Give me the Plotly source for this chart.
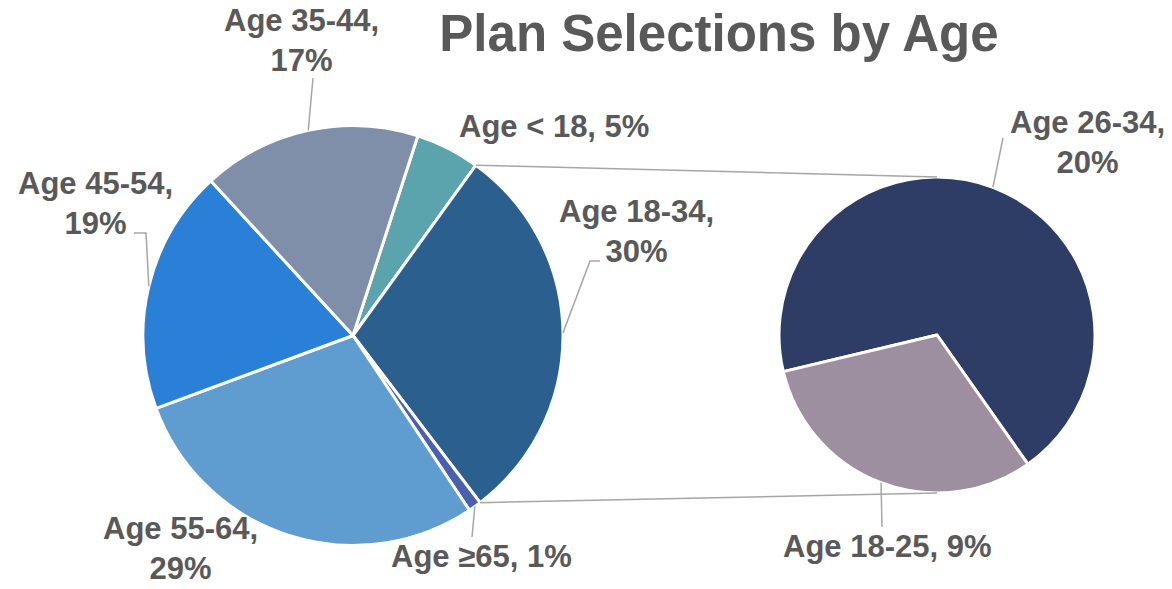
import math
import plotly.graph_objects as go

W, H = 1172, 589

# main pie (Age 18-34 is split out into the small pie)
main_labels = ["Age < 18", "Age 18-34", "Age \u226565", "Age 55-64", "Age 45-54", "Age 35-44"]
main_values = [5, 30, 1, 29, 19, 17]
main_colors = ["#5BA3AD", "#2B5F8E", "#4A5FAD", "#5F9DD1", "#2A7FD6", "#7F8FA9"]

# breakdown of Age 18-34
sub_labels = ["Age 26-34", "Age 18-25"]
sub_values = [20, 9]
sub_colors = ["#2E3D66", "#9D8EA0"]

split_label = "Age 18-34"

TEXT = "#595959"
LINE = "#A6A6A6"
FONT = "Liberation Sans, Arial, sans-serif"

# pie geometry in pixels (center x, center y, radius, start angle clockwise from 12 o'clock)
main_geo = (353, 335.5, 210, 18.0)
sub_geo = (937, 335, 158, 256.6)

# label layout: text center, leader start, optional knee
main_lbl = {
    "Age < 18": dict(pos=(554, 126), wrap=False, lead=None),
    "Age 18-34": dict(pos=(636, 231), wrap=True, lead=[(600, 261), (590, 261)]),
    "Age \u226565": dict(pos=(481, 556), wrap=False, lead=[(472, 537)]),
    "Age 55-64": dict(pos=(180, 548), wrap=True, lead=None),
    "Age 45-54": dict(pos=(95, 203), wrap=True, lead=[(134, 233), (146, 233)]),
    "Age 35-44": dict(pos=(301, 41), wrap=True, lead=[(313, 78)]),
}
sub_lbl = {
    "Age 26-34": dict(pos=(1087, 143), wrap=True, lead=[(1003, 138)]),
    "Age 18-25": dict(pos=(888, 546), wrap=False, lead=[(882, 527)]),
}


def px(x, y):
    return x / W, 1 - y / H


def domain(geo):
    cx, cy, r, _ = geo
    return dict(x=[(cx - r) / W, (cx + r) / W], y=[1 - (cy + r) / H, 1 - (cy - r) / H])


def edge(geo, ang):
    cx, cy, r, _ = geo
    a = math.radians(ang)
    return cx + r * math.sin(a), cy - r * math.cos(a)


def slice_angles(values, geo):
    tot = sum(values)
    start = geo[3]
    out = []
    for v in values:
        end = start + 360 * v / tot
        out.append((start, end))
        start = end
    return out


def path(points):
    pts = [px(x, y) for x, y in points]
    return "M " + " L ".join(f"{x:.5f},{y:.5f}" for x, y in pts)


fig = go.Figure()

for labels, values, colors, geo in [(main_labels, main_values, main_colors, main_geo),
                                    (sub_labels, sub_values, sub_colors, sub_geo)]:
    fig.add_trace(go.Pie(
        labels=labels, values=values, sort=False, direction="clockwise",
        rotation=geo[3], domain=domain(geo), textinfo="none",
        marker=dict(colors=colors, line=dict(color="white", width=3)),
        showlegend=False,
    ))

shapes = []
annotations = []

for labels, values, geo, lbl in [(main_labels, main_values, main_geo, main_lbl),
                                 (sub_labels, sub_values, sub_geo, sub_lbl)]:
    angs = slice_angles(values, geo)
    for name, v, (a0, a1) in zip(labels, values, angs):
        d = lbl[name]
        sep = ",<br>" if d["wrap"] else ", "
        x, y = px(*d["pos"])
        annotations.append(dict(
            text=f"{name}{sep}{v}%", x=x, y=y, xref="paper", yref="paper",
            xanchor="center", yanchor="middle", showarrow=False, align="center",
            font=dict(family=FONT, size=31, color=TEXT, weight=700),
        ))
        if d["lead"]:
            tip = edge(geo, (a0 + a1) / 2)
            shapes.append(dict(type="path", xref="paper", yref="paper",
                               path=path(d["lead"] + [tip]),
                               line=dict(color=LINE, width=1.5)))

# connector lines from the split slice to the breakdown pie
a0, a1 = slice_angles(main_values, main_geo)[main_labels.index(split_label)]
for a_main, a_sub in [(a0, 0), (a1, 180)]:
    shapes.append(dict(type="path", xref="paper", yref="paper",
                       path=path([edge(main_geo, a_main), edge(sub_geo, a_sub)]),
                       line=dict(color=LINE, width=1.5)))

fig.update_layout(
    width=W, height=H,
    margin=dict(l=0, r=0, t=0, b=0),
    paper_bgcolor="white", plot_bgcolor="white",
    title=dict(text="Plan Selections by Age", x=719 / W, xanchor="center",
               y=1 - 33 / H, yanchor="middle",
               font=dict(family=FONT, size=51, color=TEXT, weight=700)),
    shapes=shapes, annotations=annotations,
)

# drop the default page margin so the figure sits at the window's corner
fig.write_html("out.html", config={"displayModeBar": False},
               post_script="document.body.style.margin='0';")
